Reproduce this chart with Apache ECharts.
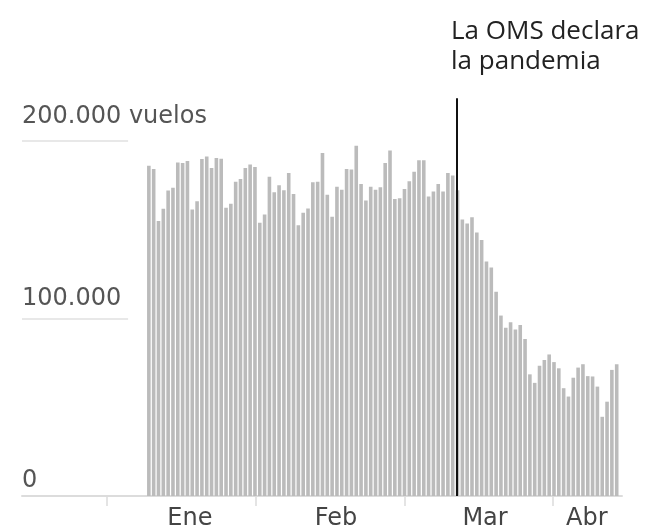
<!DOCTYPE html>
<html>
<head>
<meta charset="utf-8">
<script src="https://cdn.jsdelivr.net/npm/echarts@6/dist/echarts.min.js"></script>
<style>
  html, body { margin:0; padding:0; background:#fff; }
  #grafico { width:647px; height:531px; }
</style>
</head>
<body>
<div id="grafico"></div>
<script>
// vuelos diarios en el mundo, una barra por dia (enero - abril)
var vuelos = [
  186000, 184100, 154800, 161700, 172000, 173500, 187800, 187500, 188600, 161300,
  166000, 189700, 191200, 184700, 190300, 189900, 162300, 164500, 176900, 178500,
  184700, 186600, 185300, 153900, 158500, 179700, 171000, 175000, 172200, 181900,
  170100, 152500, 159500, 161900, 176600, 176900, 193100, 169600, 157300, 174100,
  172400, 184100, 183800, 197200, 175700, 166400, 174100, 172500, 173800, 187500,
  194600, 167300, 167700, 172900, 177200, 182600, 189000, 189000, 168600, 171400,
  175700, 171400, 181900, 180400, 172200, 155700, 153500, 157000, 148300, 144100,
  132000, 128700, 115000, 101600, 94700, 97900, 93700, 96300, 88400, 68500,
  63700, 73400, 76600, 79700, 75400, 71900, 60700, 56000, 66600, 72300,
  74200, 67500, 67300, 61600, 44600, 53100, 71000, 74200
];
var meses = ['Ene', 'Feb', 'Mar', 'Abr'];
var mesesPos = [8.5, 38.8, 69.7, 90.8];       // centro de cada etiqueta (indice de dia)
var mesesCortes = [-8.7, 22.2, 53.1, 83.7];   // marcas del eje
var yTicks = [0, 100000, 200000];
var diaOMS = 63.9;                            // 11 de marzo
var topeOMS = 224000;
var xMin = -26.3, xMax = 98.1, finGuia = -4.3;

function miles(v) {
  return String(v).replace(/\B(?=(\d{3})+(?!\d))/g, '.');
}

var chart = echarts.init(document.getElementById('grafico'));
var fuenteEje = '"DejaVu Sans"';
var fuenteNota = '"Open Sans"';

var option = {
  animation: false,
  grid: { left: 22, right: 25, top: 52, bottom: 33 },
  xAxis: {
    type: 'value',
    min: xMin,
    max: xMax,
    splitLine: { show: false },
    axisLine: { show: true, lineStyle: { color: '#dcdcdc', width: 2 } },
    axisTick: { show: true, customValues: mesesCortes, length: 10, lineStyle: { color: '#dcdcdc', width: 1.5 } },
    axisLabel: {
      customValues: mesesPos,
      margin: 11,
      fontFamily: fuenteEje,
      fontSize: 24,
      color: '#444',
      formatter: function (v) {
        var i = mesesPos.indexOf(v);
        return i >= 0 ? meses[i] : '';
      }
    }
  },
  yAxis: {
    type: 'value',
    min: 0,
    max: 250000,
    axisLine: { show: false },
    axisTick: { show: false },
    splitLine: { show: false },
    axisLabel: {
      customValues: yTicks,
      inside: true,
      margin: 0,
      align: 'left',
      verticalAlign: 'bottom',
      fontFamily: fuenteEje,
      fontSize: 24,
      color: '#555',
      formatter: function (v) {
        if (v === 200000) return '{t2|' + miles(v) + ' vuelos}';
        if (v === 100000) return '{t1|' + miles(v) + '}';
        return '{t0|' + miles(v) + '}';
      },
      rich: {
        t2: { fontFamily: fuenteEje, fontSize: 24, color: '#555', padding: [0, 0, 12, 0] },
        t1: { fontFamily: fuenteEje, fontSize: 24, color: '#555', padding: [0, 0, 8, 0] },
        t0: { fontFamily: fuenteEje, fontSize: 24, color: '#555', padding: [0, 0, 3, 0] }
      }
    }
  },
  series: [{
    type: 'bar',
    data: vuelos.map(function (v, i) { return [i, v]; }),
    barWidth: 3.6,
    itemStyle: { color: '#bbbbbb' },
    markLine: {
      silent: true,
      symbol: 'none',
      label: { show: false },
      data: [
        [{ coord: [xMin, 100000], lineStyle: { color: '#e0e0e0', width: 1.5, type: 'solid' } }, { coord: [finGuia, 100000] }],
        [{ coord: [xMin, 200000], lineStyle: { color: '#e0e0e0', width: 1.5, type: 'solid' } }, { coord: [finGuia, 200000] }],
        [{ coord: [diaOMS, 0], lineStyle: { color: '#111', width: 2, type: 'solid' } }, { coord: [diaOMS, topeOMS] }]
      ]
    }
  }]
};
chart.setOption(option);

// texto de la anotacion, colocado con la escala del grafico
var p = chart.convertToPixel({ xAxisIndex: 0, yAxisIndex: 0 }, [diaOMS, topeOMS]);
chart.setOption({
  graphic: [{
    type: 'text',
    x: p[0] - 6,
    y: p[1] - 22,
    style: {
      text: 'La OMS declara\nla pandemia',
      fontFamily: fuenteNota,
      fontSize: 26,
      lineHeight: 30,
      fill: '#222',
      align: 'left',
      verticalAlign: 'bottom'
    }
  }]
});
</script>
</body>
</html>
